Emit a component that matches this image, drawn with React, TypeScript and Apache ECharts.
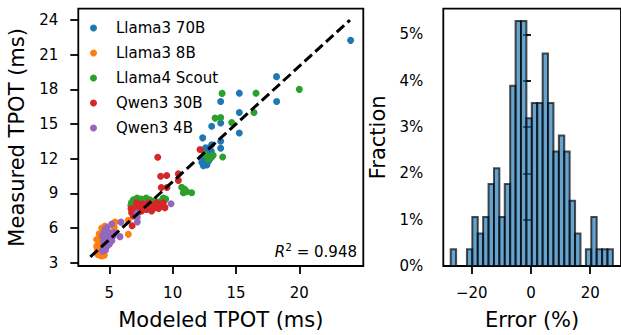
import React, { useEffect, useRef } from 'react';
import * as echarts from 'echarts';

const FONT = 'DejaVu Sans';

const seriesNames = ['Llama3 70B', 'Llama3 8B', 'Llama4 Scout', 'Qwen3 30B', 'Qwen3 4B'];
const seriesColors = ['#1f77b4', '#ff7f0e', '#2ca02c', '#d62728', '#9467bd'];

// [modeled, measured] TPOT (ms)
const llama3_70b = [
  [24.05, 22.24], [18.2, 19.1], [18.21, 16.95], [15.26, 17.67], [15.26, 16.0], [15.26, 14.22],
  [13.79, 16.95], [13.79, 15.08], [13.08, 14.8], [12.37, 13.8], [13.79, 13.5], [13.08, 13.2],
  [13.79, 12.9], [12.82, 12.92], [12.55, 12.63], [12.95, 12.35], [12.29, 12.06], [12.55, 11.63],
  [12.42, 11.4], [12.82, 11.77], [12.7, 11.45], [12.95, 12.0], [12.6, 12.95], [13.05, 12.65],
  [12.45, 11.9], [12.3, 11.7],
];
const llama3_8b = [
  [4.66, 6.16], [5.19, 6.31], [5.45, 6.51], [6.5, 6.66], [6.5, 5.45], [5.32, 5.59], [5.39, 6.03],
  [4.53, 5.88], [4.13, 5.01], [4.0, 4.43], [4.13, 3.86], [4.4, 3.57], [4.2, 4.7], [4.3, 5.3],
  [4.05, 4.2], [4.25, 4.0], [4.5, 3.8], [4.1, 3.7], [4.35, 4.5], [4.2, 5.5], [4.4, 6.0],
  [4.0, 5.0], [4.6, 3.65], [4.25, 3.65], [4.35, 4.2],
];
const llama4_scout = [
  [20.0, 18.0], [16.58, 17.67], [13.9, 17.65], [16.42, 16.0], [13.35, 15.51], [13.79, 15.55],
  [14.66, 15.13], [12.69, 12.2], [13.08, 12.15], [13.95, 12.15], [12.82, 11.95], [12.5, 12.4],
  [13.2, 12.3], [10.71, 9.53], [10.84, 9.05], [11.5, 9.05], [11.1, 9.15], [10.95, 9.35],
  [6.75, 8.2], [6.9, 8.45], [7.2, 8.6], [7.5, 8.5], [7.9, 8.6], [8.2, 8.45], [7.1, 8.25],
  [9.26, 8.6], [9.45, 8.5], [9.1, 8.35], [8.6, 8.35], [6.7, 7.95],
];
const qwen3_30b = [
  [8.82, 12.13], [12.16, 12.79], [9.05, 10.48], [9.53, 10.55], [10.45, 10.69], [10.45, 10.12],
  [9.1, 9.5], [9.55, 9.5], [6.76, 7.32], [7.03, 7.76], [7.42, 7.9], [7.82, 8.04], [8.21, 7.9],
  [8.61, 7.76], [9.0, 7.96], [9.39, 7.76], [7.16, 8.19], [7.95, 7.61], [8.34, 7.47], [7.55, 7.47],
  [6.89, 7.03], [7.29, 7.32], [7.68, 7.76], [8.74, 8.19], [8.08, 8.19], [7.1, 7.61], [6.71, 7.67],
  [9.26, 8.19], [6.8, 6.2], [8.45, 8.0], [7.6, 8.1], [8.9, 7.7], [7.0, 7.1],
];
const qwen3_4b = [
  [9.87, 8.1], [7.2, 7.3], [7.2, 6.9], [7.21, 6.52], [5.92, 6.51], [5.19, 6.35], [4.8, 6.03],
  [5.84, 5.25], [4.66, 5.88], [4.9, 5.7], [5.1, 5.5], [4.7, 5.4], [5.3, 5.3], [4.6, 5.1],
  [5.0, 5.05], [4.55, 4.8], [4.9, 4.85], [5.2, 4.9], [4.6, 4.55], [4.8, 4.4], [4.5, 4.25],
  [4.7, 4.1], [4.45, 4.0], [5.0, 4.6], [4.45, 5.3], [5.4, 5.6], [4.6, 5.65],
];
const scatterData = [llama3_70b, llama3_8b, llama4_scout, qwen3_30b, qwen3_4b];

const parityLine = [[3.5, 3.5], [24, 24]];
const r2Label = '0.948';

const scatterXTicks = [5, 10, 15, 20];
const scatterYTicks = [3, 6, 9, 12, 15, 18, 21, 24];

// Histogram of error (%)
const histEdges = [
  -27.1, -25.27, -23.45, -21.62, -19.8, -17.97, -16.15, -14.32, -12.49, -10.67, -8.84,
  -7.02, -5.19, -3.37, -1.54, 0.29, 2.11, 3.94, 5.76, 7.59, 9.42, 11.24, 13.07, 14.89,
  16.72, 18.54, 20.37, 22.19, 24.02, 25.84, 27.67,
];
const histPercent = [
  0.36, 0, 0, 0.36, 1.06, 0.7, 1.06, 1.77, 2.11, 1.06, 1.77, 3.89, 5.29, 5.29, 3.19,
  3.52, 3.52, 4.59, 3.52, 2.47, 2.82, 2.47, 1.41, 0.7, 0, 0.36, 1.06, 0.36, 0.36, 0.36,
];
const histXTicks = [-20, 0, 20];
const histYTicks = [0, 1, 2, 3, 4, 5];

const G1 = { left: 78.3, top: 8.7, width: 285, height: 258.3 };
const G2 = { left: 443.3, top: 8.7, width: 180, height: 258.3 };

export default function App() {
  const ref = useRef<HTMLDivElement>(null);
  useEffect(() => {
    document.body.style.margin = '0';
    if (!ref.current) return;
    const chart = echarts.init(ref.current, null, { renderer: 'svg' });
    const tickLabel = { fontFamily: FONT, fontSize: 15, color: '#000' };
    const axisCommon = {
      axisLine: { show: false },
      axisTick: { show: true, inside: false, length: 8, lineStyle: { color: '#000', width: 1.8 } },
      splitLine: { show: false },
      nameTextStyle: { fontFamily: FONT, fontSize: 21, color: '#000' },
    };
    const histData = histPercent.map((p, i) => [histEdges[i], histEdges[i + 1], p]);
    const option: any = {
      animation: false,
      textStyle: { fontFamily: FONT },
      grid: [
        { ...G1, show: true, borderColor: '#000', borderWidth: 1.8, backgroundColor: 'transparent' },
        { ...G2, show: true, borderColor: '#000', borderWidth: 1.8, backgroundColor: 'transparent' },
      ],
      xAxis: [
        {
          ...axisCommon, type: 'value', gridIndex: 0, min: 2.55, max: 25.05,
          name: 'Modeled TPOT (ms)', nameLocation: 'middle', nameGap: 43,
          axisTick: { ...axisCommon.axisTick, customValues: scatterXTicks },
          axisLabel: { ...tickLabel, margin: 19, customValues: scatterXTicks },
        },
        {
          ...axisCommon, type: 'value', gridIndex: 1, min: -29.6, max: 30.4,
          name: 'Error (%)', nameLocation: 'middle', nameGap: 43,
          axisTick: { ...axisCommon.axisTick, customValues: histXTicks },
          axisLabel: {
            ...tickLabel, margin: 19, customValues: histXTicks,
            formatter: (v: number) => (v < 0 ? '\u2212' + Math.abs(v) : String(v)),
          },
        },
      ],
      yAxis: [
        {
          ...axisCommon, type: 'value', gridIndex: 0, min: 2.71, max: 24.98,
          name: 'Measured TPOT (ms)', nameLocation: 'middle', nameGap: 51,
          axisTick: { ...axisCommon.axisTick, customValues: scatterYTicks },
          axisLabel: { ...tickLabel, margin: 20, customValues: scatterYTicks },
        },
        {
          ...axisCommon, type: 'value', gridIndex: 1, min: 0, max: 5.555,
          name: 'Fraction', nameLocation: 'middle', nameGap: 55,
          axisTick: { ...axisCommon.axisTick, customValues: histYTicks },
          axisLabel: { ...tickLabel, margin: 20, customValues: histYTicks, formatter: (v: number) => v + '%' },
        },
      ],
      legend: {
        orient: 'vertical', left: 85, top: 15.5, itemGap: 10,
        itemWidth: 35, itemHeight: 7, icon: 'circle', symbolKeepAspect: true,
        data: seriesNames,
        textStyle: { fontFamily: FONT, fontSize: 15, color: '#000' },
      },
      graphic: [
        {
          type: 'text', right: 621 - 357, top: 241,
          style: {
            text: '{r|R}{s|2}{t| = ' + r2Label + '}',
            rich: {
              r: { fontFamily: FONT, fontSize: 15, fontStyle: 'italic', fill: '#000', lineHeight: 18, verticalAlign: 'bottom' },
              s: { fontFamily: FONT, fontSize: 10.5, fill: '#000', lineHeight: 18, verticalAlign: 'top' },
              t: { fontFamily: FONT, fontSize: 15, fill: '#000', lineHeight: 18, verticalAlign: 'bottom' },
            },
          },
        },
      ],
      series: [
        ...seriesNames.map((name, i) => ({
          type: 'scatter', name, xAxisIndex: 0, yAxisIndex: 0,
          data: scatterData[i], symbolSize: 7,
          itemStyle: { color: seriesColors[i], opacity: 1 },
          z: 2 + i * 0.01,
        })),
        {
          type: 'line', xAxisIndex: 0, yAxisIndex: 0, data: parityLine, symbol: 'none',
          lineStyle: { color: '#000', width: 3, type: [10, 4.5], cap: 'butt' }, z: 4, silent: true,
        },
        {
          type: 'custom', xAxisIndex: 1, yAxisIndex: 1, data: histData,
          encode: { x: [0, 1], y: 2 },
          renderItem: (params: any, api: any) => {
            const v = api.value(2);
            if (!v) return null;
            const p0 = api.coord([api.value(0), 0]);
            const p1 = api.coord([api.value(1), v]);
            return {
              type: 'rect',
              shape: { x: p0[0], y: p1[1], width: p1[0] - p0[0], height: p0[1] - p1[1] },
              style: { fill: 'rgba(31,119,180,0.68)', stroke: 'rgba(0,0,0,0.68)', lineWidth: 2 },
            };
          },
        },
      ],
    };
    chart.setOption(option);
    return () => chart.dispose();
  }, []);
  return <div ref={ref} style={{ width: 621, height: 335 }} />;
}
